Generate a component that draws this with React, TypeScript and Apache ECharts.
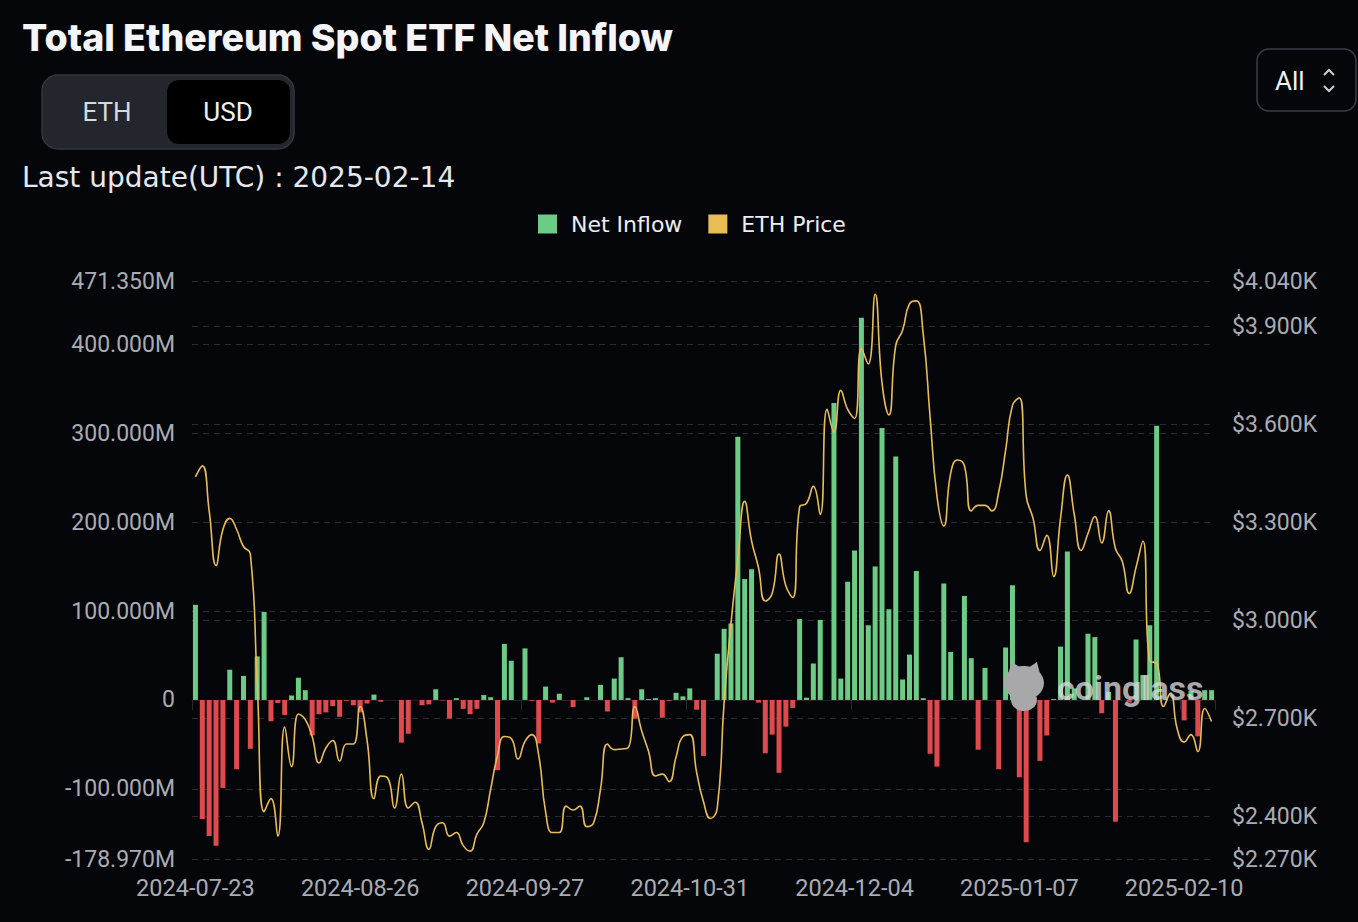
import React, { useEffect, useRef } from "react";
import * as echarts from "echarts";

// ---------- data ----------
const START_DATE = "2024-07-23";
const END_DATE = "2025-02-14";

function tradingDays(start: string, end: string): string[] {
  const out: string[] = [];
  const d = new Date(start + "T00:00:00Z");
  const e = new Date(end + "T00:00:00Z");
  while (d.getTime() <= e.getTime()) {
    const wd = d.getUTCDay();
    if (wd !== 0 && wd !== 6) out.push(d.toISOString().slice(0, 10));
    d.setUTCDate(d.getUTCDate() + 1);
  }
  return out;
}

const dates = tradingDays(START_DATE, END_DATE);

// Net inflow, millions USD
const netInflow = [
  107, -134, -153, -164, -99, 34, -78, 27, -55, 49,
  99, -24, -3.4, -17, 5, 25, 11, -40, -16, -14,
  -7, -19, -1, -6, -14, -4, 6, -2, 0, 0,
  -48, -38, 0, -6, -5, 12, -0.5, -21, 2, -10,
  -16, -10, 5.5, 3, -79, 63, 44, 0, 58, -1,
  -49, 15, -3, 7, 0, -8, 0, 3, 0, 17,
  -13, 24, 48, 2, -21, 12, 1, 2, -20, -1,
  8, 4, 13, -11, -63, 0, 52, 80, 86, 296,
  136, 147, -3, -60, -39, -82, -30, -9, 91, 2.5,
  41, 90, 0, 334, 24, 133, 168, 430, 84, 150,
  306, 102, 274, 23, 51, 145, 2, -60.5, -75, 131,
  54, 0, 117, 47, -56, 36, 0, -78, 59, 129,
  -87, -160, 0, -68.6, -40, 1, 60, 167, 13, 0,
  74.5, 70.7, -15, 9, -137, 0, -3, 68, 28, 84,
  308.6, 0, 0, 0, -23, 10, -41, 11, 11,
];

// ETH price, USD
const ethPrice = [
  3440, 3474, 3336, 3169, 3279, 3313, 3279, 3227, 3204, 2806,
  2415, 2455, 2340, 2674, 2553, 2714, 2697, 2645, 2564, 2610,
  2633, 2570, 2622, 2622, 2737, 2633, 2455, 2524, 2518, 2426,
  2530, 2426, 2444, 2381, 2300, 2369, 2381, 2340, 2351, 2311,
  2294, 2346, 2381, 2484, 2587, 2645, 2639, 2576, 2630, 2651,
  2587, 2415, 2351, 2351, 2432, 2420, 2432, 2369, 2381, 2484,
  2622, 2605, 2607, 2610, 2737, 2662, 2599, 2524, 2530, 2507,
  2582, 2645, 2651, 2535, 2445, 2394, 2426, 2749, 2991, 3187,
  3365, 3244, 3163, 3060, 3083, 3204, 3106, 3071, 3348, 3359,
  3411, 3325, 3647, 3578, 3705, 3647, 3619, 3832, 3786, 3999,
  3728, 3630, 3843, 3889, 3970, 3979, 3878, 3624, 3382, 3290,
  3451, 3492, 3474, 3336, 3353, 3353, 3336, 3394, 3521, 3659,
  3682, 3382, 3313, 3215, 3261, 3135, 3313, 3446, 3325, 3215,
  3267, 3319, 3238, 3336, 3221, 3181, 3083, 3163, 3244, 2876,
  2870, 2737, 2778, 2668, 2628, 2651, 2599, 2731, 2691,
];

const inflowMin = -178.97;
const inflowMax = 471.35;
const priceMin = 2270;
const priceMax = 4040;

const TITLE = "Total Ethereum Spot ETF Net Inflow";
const UNIT_OPTIONS = ["ETH", "USD"];
const LAST_UPDATE = "Last update(UTC) : 2025-02-14";
const RANGE_LABEL = "All";
const SERIES_NAMES = ["Net Inflow", "ETH Price"];
const WATERMARK = "coinglass";

// ---------- style ----------
const BG = "#05060a";
const GREEN = "#6ccb84";
const RED = "#df4a4e";
const YELLOW = "#e9bd56";
const GRIDLINE = "#2a2c31";
const LABEL = "#a9acb3";
const FONT = "Roboto, 'Noto Sans', sans-serif";
const WIDE_FONT = "'DejaVu Sans', Roboto, sans-serif";
const MARK = "#a8a8aa";

export default function App() {
  const ref = useRef<HTMLDivElement>(null);

  useEffect(() => {
    document.body.style.margin = "0";
    if (!ref.current) return;
    const chart = echarts.init(ref.current, undefined, { renderer: "svg" });

    const option: any = {
      animation: false,
      backgroundColor: BG,
      textStyle: { fontFamily: FONT },
      legend: {
        top: 213,
        left: 538,
        padding: 0,
        itemWidth: 19,
        itemHeight: 19,
        itemGap: 26,
        icon: "rect",
        textStyle: {
          color: "#eceef2",
          fontSize: 22,
          fontFamily: WIDE_FONT,
          padding: [0, 0, 0, 9],
        },
        data: [
          { name: SERIES_NAMES[0], itemStyle: { color: GREEN } },
          { name: SERIES_NAMES[1], itemStyle: { color: YELLOW } },
        ],
      },
      grid: { left: 192, right: 143, top: 281, bottom: 63, containLabel: false },
      xAxis: [
        {
          type: "category",
          data: dates,
          boundaryGap: true,
          axisLine: { show: false, onZero: false },
          axisTick: { show: false },
          axisLabel: {
            interval: 23,
            color: LABEL,
            fontSize: 23.5,
            fontFamily: FONT,
            margin: 17,
          },
          splitLine: { show: false },
        },
        {
          type: "category",
          data: dates,
          boundaryGap: true,
          position: "bottom",
          axisLine: {
            show: true,
            onZero: true,
            onZeroAxisIndex: 0,
            lineStyle: { color: "#1f2125", width: 1 },
          },
          axisTick: {
            show: true,
            interval: 23,
            length: 10,
            lineStyle: { color: "#2a2c31" },
          },
          axisLabel: { show: false },
          splitLine: { show: false },
        },
      ],
      yAxis: [
        {
          type: "value",
          min: inflowMin,
          max: inflowMax,
          splitNumber: 5,
          axisLine: { show: false },
          axisTick: { show: false },
          axisLabel: {
            color: LABEL,
            fontSize: 23,
            fontFamily: FONT,
            margin: 17,
            formatter: (v: number) => (Math.abs(v) < 1e-9 ? "0" : v.toFixed(3) + "M"),
          },
          splitLine: { show: true, lineStyle: { color: GRIDLINE, type: [6, 5], width: 1.2 } },
        },
        {
          type: "value",
          min: priceMin,
          max: priceMax,
          splitNumber: 5,
          position: "right",
          axisLine: { show: false },
          axisTick: { show: false },
          axisLabel: {
            color: LABEL,
            fontSize: 23,
            fontFamily: FONT,
            margin: 17,
            formatter: (v: number) => "$" + (v / 1000).toFixed(3) + "K",
          },
          splitLine: { show: true, lineStyle: { color: GRIDLINE, type: [6, 5], width: 1.2 } },
        },
      ],
      series: [
        {
          name: SERIES_NAMES[0],
          type: "bar",
          xAxisIndex: 0,
          yAxisIndex: 0,
          barWidth: 5,
          itemStyle: { color: GREEN },
          data: netInflow.map((v) => ({
            value: v,
            itemStyle: { color: v >= 0 ? GREEN : RED },
          })),
          z: 2,
        },
        {
          name: SERIES_NAMES[1],
          type: "line",
          xAxisIndex: 0,
          yAxisIndex: 1,
          data: ethPrice,
          smooth: true,
          symbol: "none",
          lineStyle: { color: YELLOW, width: 1.6 },
          itemStyle: { color: YELLOW },
          z: 3,
        },
      ],
      graphic: [
        {
          type: "text",
          left: 22,
          top: 18,
          style: {
            text: TITLE,
            fill: "#f4f5f9",
            fontSize: 37.5,
            fontWeight: 800,
            fontFamily: "Inter, Roboto, sans-serif",
          },
        },
        {
          type: "rect",
          shape: { x: 42, y: 75, width: 252, height: 74, r: 16 },
          style: { fill: "#23262c", stroke: "#34373e", lineWidth: 1.5 },
        },
        {
          type: "rect",
          shape: { x: 167, y: 80, width: 123, height: 64, r: 12 },
          style: { fill: "#000000" },
        },
        {
          type: "text",
          x: 107,
          y: 112,
          style: {
            text: UNIT_OPTIONS[0],
            fill: "#d6d9df",
            fontSize: 26,
            fontFamily: FONT,
            align: "center",
            verticalAlign: "middle",
          },
        },
        {
          type: "text",
          x: 228,
          y: 112,
          style: {
            text: UNIT_OPTIONS[1],
            fill: "#eef0f4",
            fontSize: 26,
            fontFamily: FONT,
            align: "center",
            verticalAlign: "middle",
          },
        },
        {
          type: "text",
          x: 22,
          y: 177,
          style: {
            text: LAST_UPDATE,
            fill: "#e6e8ed",
            fontSize: 28,
            fontFamily: WIDE_FONT,
            align: "left",
            verticalAlign: "middle",
          },
        },
        {
          type: "rect",
          shape: { x: 1257, y: 49, width: 99, height: 62, r: 12 },
          style: { fill: "transparent", stroke: "#3b3e46", lineWidth: 1.5 },
        },
        {
          type: "text",
          x: 1275,
          y: 81,
          style: {
            text: RANGE_LABEL,
            fill: "#eef0f4",
            fontSize: 26,
            fontFamily: FONT,
            align: "left",
            verticalAlign: "middle",
          },
        },
        {
          type: "polyline",
          shape: { points: [[1324, 75], [1329, 70], [1334, 75]] },
          style: { stroke: "#c9ccd3", lineWidth: 2, fill: "none" },
        },
        {
          type: "polyline",
          shape: { points: [[1324, 86], [1329, 91], [1334, 86]] },
          style: { stroke: "#c9ccd3", lineWidth: 2, fill: "none" },
        },
        // watermark
        {
          type: "group",
          z: 100,
          children: [
            { type: "ellipse", z: 100, shape: { cx: 1024, cy: 683, rx: 20, ry: 17 }, style: { fill: MARK } },
            { type: "ellipse", z: 100, shape: { cx: 1024, cy: 700, rx: 13, ry: 11 }, style: { fill: MARK } },
            { type: "polygon", z: 100, shape: { points: [[1008, 674], [1012, 662], [1021, 668]] }, style: { fill: MARK } },
            { type: "polygon", z: 100, shape: { points: [[1028, 668], [1037, 662], [1040, 674]] }, style: { fill: MARK } },
            {
              type: "text",
              z: 100,
              x: 1057,
              y: 688,
              style: {
                text: WATERMARK,
                fill: "rgba(215,215,218,0.78)",
                fontSize: 34,
                fontWeight: 700,
                fontFamily: FONT,
                align: "left",
                verticalAlign: "middle",
              },
            },
          ],
        },
      ],
    };

    chart.setOption(option);
    return () => chart.dispose();
  }, []);

  return (
    <div
      ref={ref}
      style={{
        position: "fixed",
        left: 0,
        top: 0,
        width: 1358,
        height: 922,
        background: BG,
      }}
    />
  );
}
